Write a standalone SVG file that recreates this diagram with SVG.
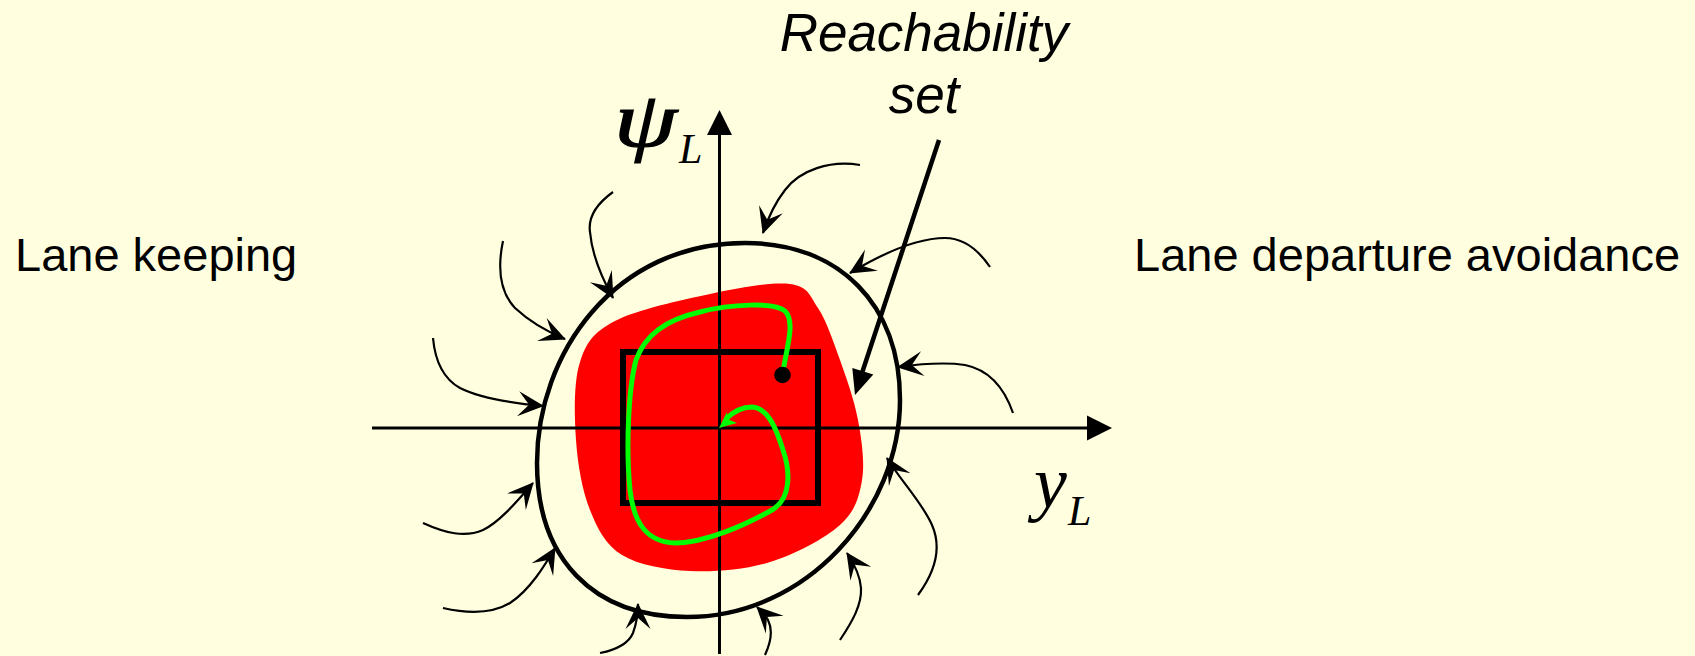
<svg xmlns="http://www.w3.org/2000/svg" width="1695" height="656" viewBox="0 0 1695 656">
<defs>
<style>
.lbl{font-family:"Liberation Sans",Arial,sans-serif;font-size:47px;fill:#000}
.it{font-family:"Liberation Sans",Arial,sans-serif;font-style:italic;font-size:53px;fill:#000}
.math{font-family:"Liberation Serif","Times New Roman",serif;font-style:italic;fill:#000}
.flow{fill:none;stroke:#000;stroke-width:2.2;marker-end:url(#ah)}
.axis{stroke:#000;stroke-width:3;fill:none}
</style>
<marker id="ah" viewBox="-28 -14 30 28" refX="0" refY="0" markerWidth="30" markerHeight="28" markerUnits="userSpaceOnUse" orient="auto">
<path d="M1,0 L-25,-12.5 L-14,0 L-25,12.5 Z" fill="#000"/>
</marker>
</defs>
<rect width="1695" height="656" fill="#FFFFE0"/>

<g id="labels">
<text class="lbl" x="15" y="271">Lane keeping</text>
<text class="lbl" x="1134" y="271">Lane departure avoidance</text>
<text class="it" x="924" y="51" text-anchor="middle">Reachability</text>
<text class="it" x="924" y="113" text-anchor="middle">set</text>
<text class="math" transform="translate(614,146) scale(1.3,1)" x="0" y="0" font-size="78" stroke="#000" stroke-width="1.2">ψ</text>
<text class="math" x="679" y="163" font-size="42">L</text>
<text class="math" x="1034" y="507" font-size="74">y</text>
<text class="math" x="1068" y="525" font-size="42">L</text>
</g>

<g id="reach-set">
<path d="M790,284 C808,286.3 809.7,295.3 818,308 C826.3,320.7 833.3,341.3 840,360 C846.7,378.7 854.3,400 858,420 C861.7,440 865,462.5 862,480 C859,497.5 855.3,511.3 840,525 C824.7,538.7 795,554.3 770,562 C745,569.7 714.7,572.2 690,571 C665.3,569.8 638.7,565.2 622,555 C605.3,544.8 597.7,529.2 590,510 C582.3,490.8 577.7,464.7 576,440 C574.3,415.3 573.5,381.8 580,362 C586.5,342.2 593.3,332.3 615,321 C636.7,309.7 680.8,300.2 710,294 C739.2,287.8 772,281.7 790,284 Z" fill="#FF0000"/>
</g>

<g id="target-box">
<rect x="623" y="352" width="195" height="151" fill="none" stroke="#000" stroke-width="6"/>
</g>

<g id="axes">
<line class="axis" x1="719.5" y1="654" x2="719.5" y2="132"/>
<polygon points="719.5,110 707,135 732,135" fill="#000"/>
<line class="axis" x1="372" y1="428" x2="1090" y2="428"/>
<polygon points="1112,428 1087,415.5 1087,440.5" fill="#000"/>
</g>

<g id="boundary">
<path d="M745,243 C840,243 900,305 900,400 C900,510 807,617 687,617 C592,617 537,558 537,463 C537,353 615,243 745,243 Z" fill="none" stroke="#000" stroke-width="4.5"/>
</g>

<g id="trajectory">
<path d="M783,372 C786,350 796,322 785,311 C775,302 730,304 700,312 C665,320 645,335 636,360 C628,390 626,450 630,490 C634,525 648,542 675,543 C705,543 745,525 772,510 C792,498 790,470 783,450 C776,428 768,408 752,407 C740,407 732,413 726,419" fill="none" stroke="#00FF00" stroke-width="5"/>
<path d="M719,428 L727,412 L727,419 L737,423 Z" fill="#00FF00"/>
<circle cx="782.5" cy="375" r="8.3" fill="#000"/>
</g>

<g id="connectors">
<path class="flow" d="M613,192 C595,205 588,218 590,232 C592,255 603,280 613,298"/>
<path class="flow" d="M503,241 C498,265 498,290 515,308 C530,322 548,332 565,339"/>
<path class="flow" d="M433,338 C435,360 442,378 460,388 C480,398 510,403 543,406"/>
<path class="flow" d="M860,165 C830,160 800,170 785,190 C775,203 768,218 763,233"/>
<path class="flow" d="M990,267 C975,245 960,238 945,238 C915,238 880,255 850,273"/>
<path class="flow" d="M1013,413 C1005,390 990,370 965,365 C945,362 920,364 898,367"/>
<path class="flow" d="M423,523 C445,533 465,538 483,530 C500,522 518,500 533,483"/>
<path class="flow" d="M443,608 C465,613 490,615 510,603 C530,590 545,565 555,548"/>
<path class="flow" d="M600,653 C615,650 628,645 633,633 C637,622 638,612 638,604"/>
<path class="flow" d="M765,655 C772,640 772,628 768,620 C765,614 760,610 757,607"/>
<path class="flow" d="M840,640 C852,622 862,605 861,588 C860,575 853,562 847,553"/>
<path class="flow" d="M918,595 C935,572 942,548 932,525 C922,502 900,480 887,458"/>
<line x1="939" y1="140" x2="862" y2="373" stroke="#000" stroke-width="4.5"/>
<polygon points="855,395 852.3,368 873.3,374.6" fill="#000"/>
</g>
</svg>
